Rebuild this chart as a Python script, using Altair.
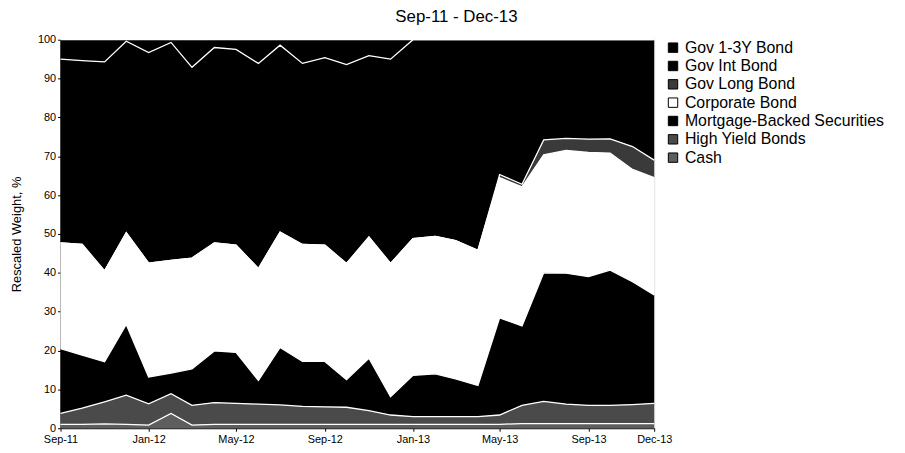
import altair as alt
import pandas as pd

months = ["2011-09-01", "2011-10-01", "2011-11-01", "2011-12-01", "2012-01-01", "2012-02-01",
          "2012-03-01", "2012-04-01", "2012-05-01", "2012-06-01", "2012-07-01", "2012-08-01",
          "2012-09-01", "2012-10-01", "2012-11-01", "2012-12-01", "2013-01-01", "2013-02-01",
          "2013-03-01", "2013-04-01", "2013-05-01", "2013-06-01", "2013-07-01", "2013-08-01",
          "2013-09-01", "2013-10-01", "2013-11-01", "2013-12-01"]

series = ["Gov 1-3Y Bond", "Gov Int Bond", "Gov Long Bond", "Corporate Bond",
          "Mortgage-Backed Securities", "High Yield Bonds", "Cash"]

gov_1_3y = [5.0, 5.4, 5.7, 0.4, 3.3, 0.7, 7.1, 2.0, 2.5, 6.1, 1.4, 6.1, 4.6, 6.4,
            4.1, 5.0, 0, 0, 0, 0, 0, 0, 0, 0, 0, 0, 0, 0]
gov_int = [47.3, 47.3, 53.8, 49.3, 54.2, 56.1, 49.1, 50.3, 50.4, 52.8, 48.1, 46.6, 48.3, 51.2,
           46.7, 52.6, 51.2, 50.6, 51.7, 54.2, 34.7, 37.2, 25.8, 25.4, 25.6, 25.5, 27.5, 31.0]
gov_long = [0, 0, 0, 0, 0, 0, 0, 0, 0, 0, 0, 0, 0, 0,
            0, 0, 0, 0, 0, 0, 0.8, 0.7, 3.8, 3.1, 3.4, 3.7, 5.9, 4.5]
corporate = [27.2, 28.5, 23.4, 23.6, 29.3, 29.0, 28.5, 27.8, 27.6, 28.8, 29.7, 30.1, 29.9, 29.9,
             31.2, 34.3, 35.2, 35.4, 35.6, 34.8, 36.1, 35.8, 30.4, 31.6, 32.0, 30.1, 28.9, 30.2]
mbs = [16.7, 13.6, 10.3, 18.2, 6.9, 5.3, 9.4, 13.3, 13.1, 6.1, 14.8, 11.6, 11.7, 7.1,
       13.5, 4.7, 10.6, 11.0, 9.7, 8.0, 25.0, 20.4, 33.1, 33.7, 33.1, 34.8, 31.6, 27.9]
high_yield = [2.8, 4.2, 5.7, 7.5, 5.5, 5.1, 5.1, 5.6, 5.4, 5.2, 5.0, 4.6, 4.5, 4.4,
              3.5, 2.4, 2.0, 2.0, 2.0, 2.0, 2.4, 4.7, 5.7, 5.0, 4.7, 4.7, 4.9, 5.2]
cash = [1.0, 1.0, 1.1, 1.0, 0.8, 3.8, 0.8, 1.0, 1.0, 1.0, 1.0, 1.0, 1.0, 1.0,
        1.0, 1.0, 1.0, 1.0, 1.0, 1.0, 1.0, 1.2, 1.2, 1.2, 1.2, 1.2, 1.2, 1.2]

colors = ["#000000", "#000000", "#3a3a3a", "#ffffff", "#000000", "#4a4a4a", "#5e5e5e"]

rows = []
all_vals = [gov_1_3y, gov_int, gov_long, corporate, mbs, high_yield, cash]
for i, (name, vals) in enumerate(zip(series, all_vals)):
    for d, v in zip(months, vals):
        rows.append({"date": d, "series": name, "value": v, "rank": len(series) - 1 - i})
df = pd.DataFrame(rows)

FONT = "Liberation Sans"

tick_dates = [alt.DateTime(year=2011, month=9, date=1, utc=True),
              alt.DateTime(year=2012, month=1, date=1, utc=True),
              alt.DateTime(year=2012, month=5, date=1, utc=True),
              alt.DateTime(year=2012, month=9, date=1, utc=True),
              alt.DateTime(year=2013, month=1, date=1, utc=True),
              alt.DateTime(year=2013, month=5, date=1, utc=True),
              alt.DateTime(year=2013, month=9, date=1, utc=True),
              alt.DateTime(year=2013, month=12, date=1, utc=True)]

x_enc = alt.X("date:T",
              scale=alt.Scale(type="utc", domain=[tick_dates[0], tick_dates[-1]], nice=False),
              axis=alt.Axis(values=tick_dates, labelExpr="utcFormat(datum.value, '%b-%y')",
                            title=None, grid=False, tickSize=3, labelPadding=2,
                            labelFontSize=11, labelFont=FONT, labelColor="black",
                            domainColor="black", tickColor="black", labelFlush=False,
                            labelOverlap=False))
y_enc = alt.Y("y1:Q", scale=alt.Scale(domain=[0, 100], nice=False),
              axis=alt.Axis(values=[0, 10, 20, 30, 40, 50, 60, 70, 80, 90, 100],
                            title="Rescaled Weight, %",
                            titleFont=FONT, titleFontSize=13, titleFontWeight="normal",
                            titleColor="black", titlePadding=14, grid=False, tickSize=3,
                            labelPadding=2, labelFontSize=11, labelFont=FONT,
                            labelColor="black", domainColor="black", tickColor="black",
                            labelOverlap=False))

base = alt.Chart(df).transform_stack(
    stack="value", groupby=["date"], sort=[alt.SortField("rank", order="ascending")],
    as_=["y0", "y1"])

areas = base.mark_area(interpolate="linear").encode(
    x=x_enc,
    y=y_enc,
    y2="y0:Q",
    color=alt.Color("series:N", scale=alt.Scale(domain=series, range=colors),
                    legend=alt.Legend(title=None, orient="none", legendX=610, legendY=0,
                                      symbolType="square", symbolSize=90,
                                      symbolStrokeColor="black", symbolStrokeWidth=1,
                                      labelFont=FONT, labelFontSize=16, labelColor="black",
                                      labelLimit=0, rowPadding=2.5, symbolOffset=0,
                                      labelOffset=4)),
    order=alt.Order("rank:Q"),
)

lines = base.mark_line(color="white", strokeWidth=1.3, interpolate="linear").encode(
    x=x_enc,
    y=y_enc,
    detail="series:N",
)

chart = alt.layer(areas, lines).properties(
    width=599, height=392,
    title=alt.TitleParams("Sep-11 - Dec-13", font=FONT, fontSize=17, fontWeight="normal",
                          color="black", anchor="middle", dx=100, offset=8),
    autosize=alt.AutoSizeParams(type="none"),
    padding={"left": 53, "top": 30, "right": 245, "bottom": 23},
).configure_view(stroke="#888888", strokeWidth=1).configure(background="white")

chart.save("out.html", embed_options={"renderer": "svg", "actions": False})
